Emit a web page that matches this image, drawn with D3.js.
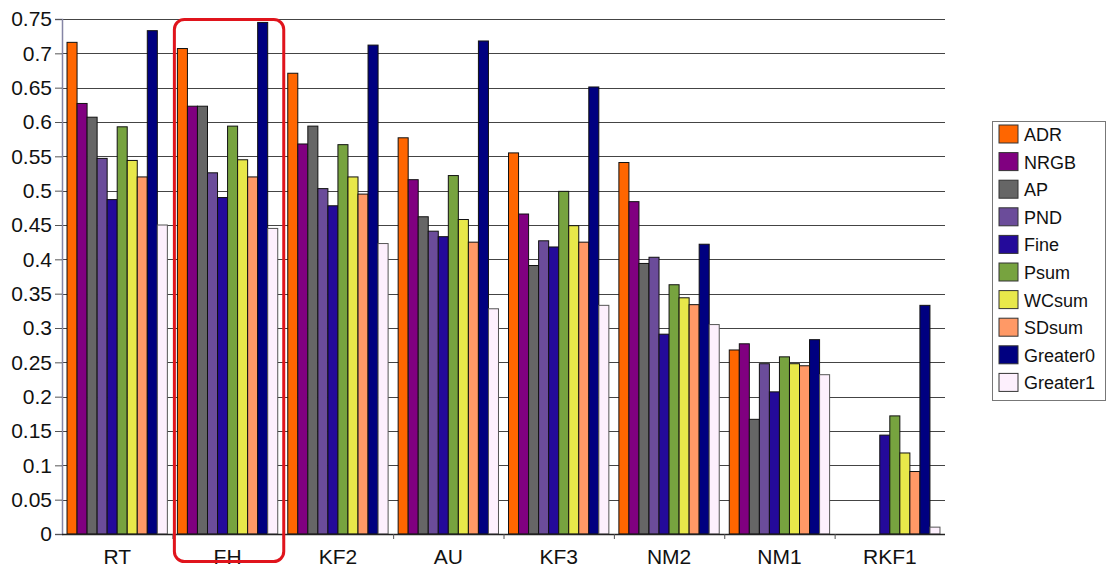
<!DOCTYPE html>
<html lang="en">
<head>
  <meta charset="UTF-8">
  <title>Grouped Bar Chart</title>
  <script src="https://d3js.org/d3.v7.min.js"></script>
  <style>
    body { margin: 0; background: #fff; }
    text { font-family: "Liberation Sans", Arial, sans-serif; fill: #111; }
  </style>
</head>
<body>
  <svg width="1107" height="567"></svg>

  <script>
    // categories along the x axis
    const categories = ["RT", "FH", "KF2", "AU", "KF3", "NM2", "NM1", "RKF1"];
    const seriesNames = ["ADR", "NRGB", "AP", "PND", "Fine", "Psum", "WCsum", "SDsum", "Greater0", "Greater1"];

    // one array per series, values in category order
    const ADR      = [0.716, 0.707, 0.671, 0.577, 0.555, 0.541, 0.268, 0];
    const NRGB     = [0.627, 0.623, 0.568, 0.516, 0.466, 0.484, 0.277, 0];
    const AP       = [0.607, 0.623, 0.594, 0.462, 0.391, 0.394, 0.167, 0];
    const PND      = [0.547, 0.526, 0.503, 0.441, 0.427, 0.403, 0.248, 0];
    const Fine     = [0.487, 0.490, 0.478, 0.433, 0.418, 0.291, 0.207, 0.144];
    const Psum     = [0.593, 0.594, 0.567, 0.522, 0.499, 0.363, 0.258, 0.172];
    const WCsum    = [0.544, 0.545, 0.520, 0.458, 0.449, 0.344, 0.248, 0.118];
    const SDsum    = [0.520, 0.520, 0.495, 0.425, 0.425, 0.334, 0.245, 0.091];
    const Greater0 = [0.733, 0.745, 0.712, 0.718, 0.651, 0.422, 0.283, 0.333];
    const Greater1 = [0.450, 0.445, 0.423, 0.328, 0.333, 0.305, 0.232, 0.010];

    const yTicks = d3.range(0, 16).map(i => +(i * 0.05).toFixed(2));

    const seriesValues = [ADR, NRGB, AP, PND, Fine, Psum, WCsum, SDsum, Greater0, Greater1];
    const colors = ["#ff6600", "#800080", "#666666", "#6b4c9a", "#240a9a",
                    "#77a33f", "#e8e84a", "#ff9966", "#000080", "#fdf0fd"];

    const svg = d3.select("svg");
    const plot = {left: 62, right: 945, top: 19, bottom: 534};

    const x0 = d3.scaleBand()
      .domain(categories)
      .range([plot.left, plot.right])
      .padding(0);

    const x1 = d3.scaleBand()
      .domain(seriesNames)
      .range([0, x0.bandwidth()])
      .paddingInner(0)
      .paddingOuter(0.5);

    const y = d3.scaleLinear()
      .domain([0, 0.75])
      .range([plot.bottom, plot.top]);

    const color = d3.scaleOrdinal().domain(seriesNames).range(colors);

    // horizontal gridlines behind the bars
    svg.append("g")
      .selectAll("line")
      .data(yTicks.filter(d => d > 0))
      .enter()
      .append("line")
      .attr("x1", plot.left)
      .attr("x2", plot.right)
      .attr("y1", d => Math.round(y(d)) + 0.5)
      .attr("y2", d => Math.round(y(d)) + 0.5)
      .attr("stroke", "#444")
      .attr("stroke-width", 1);

    // bars
    const rows = categories.map((c, ci) => ({
      category: c,
      values: seriesNames.map((s, si) => ({series: s, value: seriesValues[si][ci]}))
    }));

    svg.append("g")
      .selectAll("g")
      .data(rows)
      .enter()
      .append("g")
      .attr("transform", d => `translate(${x0(d.category)},0)`)
      .selectAll("rect")
      .data(d => d.values)
      .enter()
      .append("rect")
      .attr("x", d => x1(d.series))
      .attr("y", d => y(d.value))
      .attr("width", x1.bandwidth())
      .attr("height", d => y(0) - y(d.value))
      .attr("fill", d => color(d.series))
      .attr("stroke", d => d.series === "Greater1" ? "#555" : "#111")
      .attr("stroke-width", 1);

    // y axis
    const yAxis = svg.append("g")
      .attr("transform", `translate(${plot.left},0)`)
      .call(d3.axisLeft(y).tickValues(yTicks).tickSize(7).tickPadding(3)
        .tickFormat(d => String(d)));
    yAxis.select(".domain").attr("stroke", "#8585a5").attr("stroke-width", 1.5);
    yAxis.selectAll(".tick line").attr("stroke", "#555");
    yAxis.selectAll("text")
      .style("font-size", "21px")
      .attr("fill", "#111");

    // x axis baseline, boundary ticks and labels
    const xAxis = svg.append("g");
    xAxis.append("line")
      .attr("x1", plot.left)
      .attr("x2", plot.right)
      .attr("y1", y(0) + 0.5)
      .attr("y2", y(0) + 0.5)
      .attr("stroke", "#222")
      .attr("stroke-width", 1.5);
    xAxis.selectAll("line.bt")
      .data(categories.slice(1))
      .enter()
      .append("line")
      .attr("class", "bt")
      .attr("x1", d => x0(d) + 0.5)
      .attr("x2", d => x0(d) + 0.5)
      .attr("y1", y(0))
      .attr("y2", y(0) + 5)
      .attr("stroke", "#555");
    xAxis.selectAll("text")
      .data(categories)
      .enter()
      .append("text")
      .attr("x", d => x0(d) + x0.bandwidth() / 2)
      .attr("y", 564)
      .attr("text-anchor", "middle")
      .style("font-size", "21px")
      .text(d => d);

    // highlight box around FH
    svg.append("rect")
      .attr("x", x0("FH") + 2)
      .attr("y", 19.5)
      .attr("width", x0.bandwidth() - 1)
      .attr("height", 542)
      .attr("rx", 10)
      .attr("fill", "none")
      .attr("stroke", "#e0141c")
      .attr("stroke-width", 3);

    // legend
    const legend = svg.append("g").attr("transform", "translate(992,121)");
    legend.append("rect")
      .attr("x", 0.5)
      .attr("y", 0.5)
      .attr("width", 113)
      .attr("height", 279)
      .attr("fill", "#fff")
      .attr("stroke", "#777");
    const item = legend.selectAll("g.item")
      .data(seriesNames)
      .enter()
      .append("g")
      .attr("class", "item")
      .attr("transform", (d, i) => `translate(7,${4 + i * 27.6})`);
    item.append("rect")
      .attr("width", 19)
      .attr("height", 18)
      .attr("fill", d => color(d))
      .attr("stroke", "#333");
    item.append("text")
      .attr("x", 25)
      .attr("y", 16)
      .style("font-size", "18px")
      .text(d => d);
  </script>
</body>
</html>
